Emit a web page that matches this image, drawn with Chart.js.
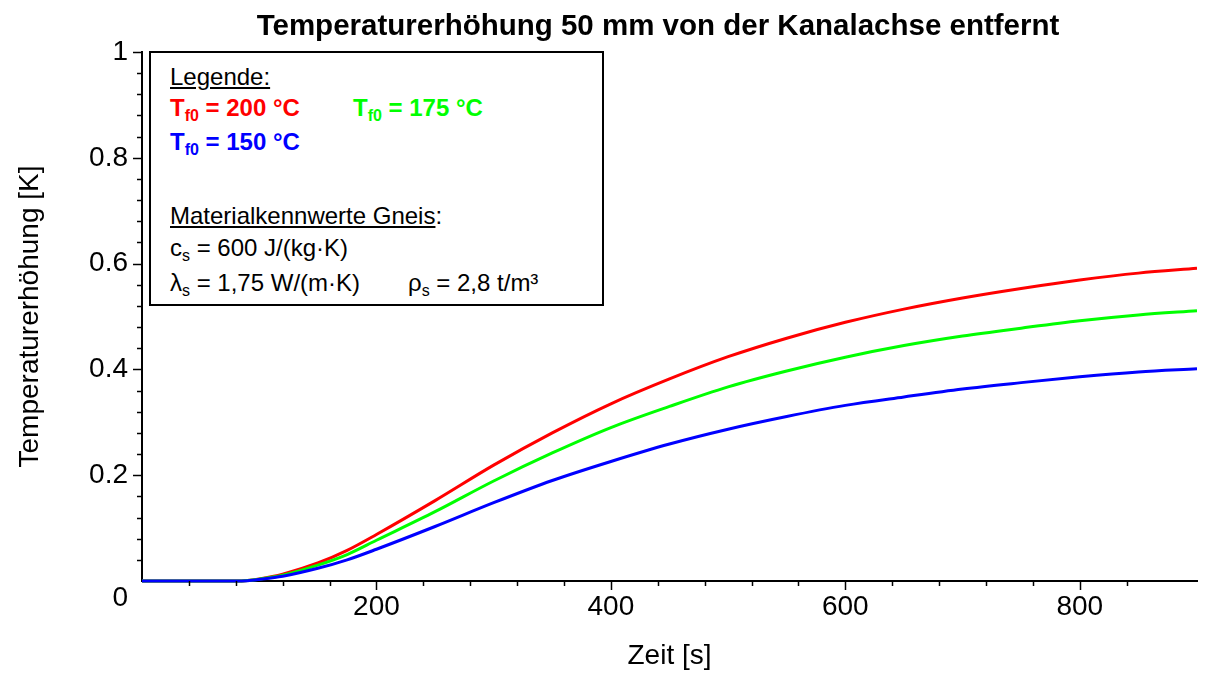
<!DOCTYPE html>
<html>
<head>
<meta charset="utf-8">
<script src="https://cdn.jsdelivr.net/npm/chart.js@4.4.1/dist/chart.umd.min.js"></script>
<style>
  html, body { margin: 0; padding: 0; background: #fff; }
  #wrap { position: relative; width: 1206px; height: 673px; font-family: "Liberation Sans", Arial, sans-serif; }
  #chart { position: absolute; left: 0; top: 0; }
  .title { position: absolute; left: 658px; top: 7px; transform: translateX(-50%); white-space: nowrap;
           font-weight: bold; font-size: 29.5px; line-height: 35px; color: #000; }
  .box { position: absolute; left: 149px; top: 51px; width: 451px; height: 251px; border: 2px solid #000; background: #fff; }
  .lg { position: absolute; white-space: nowrap; font-size: 24px; line-height: 24px; color: #000; }
  .sub { position: relative; top: 5px; font-size: 16px; }
  .red { color: #ff0000; font-weight: bold; }
  .green { color: #00ff00; font-weight: bold; }
  .blue { color: #0000ff; font-weight: bold; }
</style>
</head>
<body>
<div id="wrap">
  <canvas id="chart" width="1206" height="673"></canvas>
  <div class="title">Temperaturerhöhung 50 mm von der Kanalachse entfernt</div>
  <div class="box"></div>
  <div class="lg" style="left:170px; top:65px;"><u>Legende:</u></div>
  <div class="lg red" style="left:170px; top:96px;">T<span class="sub">f0</span> = 200 °C</div>
  <div class="lg green" style="left:353px; top:96px;">T<span class="sub">f0</span> = 175 °C</div>
  <div class="lg blue" style="left:170px; top:130px;">T<span class="sub">f0</span> = 150 °C</div>
  <div class="lg" style="left:170px; top:204px;"><u>Materialkennwerte Gneis</u>:</div>
  <div class="lg" style="left:170px; top:236px;">c<span class="sub">s</span> = 600 J/(kg·K)</div>
  <div class="lg" style="left:170px; top:271px;">λ<span class="sub">s</span> = 1,75 W/(m·K)</div>
  <div class="lg" style="left:408px; top:271px;">ρ<span class="sub">s</span> = 2,8 t/m³</div>
</div>
<script>
// time in seconds
const zeit = [0, 40, 80, 90, 100, 120, 150, 175, 200, 250, 300, 350, 400, 450, 500, 550, 600, 650, 700, 750, 800, 850, 900];
// temperature rise in K
const tf200 = [0, 0, 0, 0.001, 0.004, 0.013, 0.034, 0.058, 0.088, 0.152, 0.219, 0.280, 0.335, 0.382, 0.424, 0.459, 0.489, 0.514, 0.535, 0.553, 0.569, 0.582, 0.591];
const tf175 = [0, 0, 0, 0.001, 0.0035, 0.011, 0.030, 0.050, 0.077, 0.131, 0.189, 0.242, 0.290, 0.330, 0.367, 0.397, 0.423, 0.445, 0.463, 0.478, 0.492, 0.503, 0.511];
const tf150 = [0, 0, 0, 0.0007, 0.003, 0.009, 0.024, 0.040, 0.060, 0.103, 0.148, 0.190, 0.226, 0.259, 0.287, 0.311, 0.332, 0.348, 0.363, 0.375, 0.386, 0.395, 0.401];

const xLabels = [200, 400, 600, 800];

function pts(ys) {
  return zeit.map((t, i) => ({ x: t, y: ys[i] }));
}
function isMajorY(v) {
  return Math.abs(v * 5 - Math.round(v * 5)) < 1e-6;
}

// tick marks: long at labelled values, short elsewhere
const tickMarks = {
  id: "tickMarks",
  afterDraw(chart) {
    const { ctx, chartArea, scales: { x, y } } = chart;
    ctx.save();
    ctx.strokeStyle = "#000";
    ctx.lineWidth = 1.5;
    x.ticks.forEach(t => {
      if (t.value <= 0 || t.value >= 900) return;
      const px = Math.round(x.getPixelForValue(t.value)) + 0.5;
      const len = xLabels.includes(t.value) ? 9 : 5;
      ctx.beginPath();
      ctx.moveTo(px, chartArea.bottom);
      ctx.lineTo(px, chartArea.bottom + len);
      ctx.stroke();
    });
    y.ticks.forEach(t => {
      if (t.value <= 0) return;
      const py = Math.round(y.getPixelForValue(t.value)) + 0.5;
      const len = isMajorY(t.value) ? 9 : 5;
      ctx.beginPath();
      ctx.moveTo(chartArea.left, py);
      ctx.lineTo(chartArea.left - len, py);
      ctx.stroke();
    });
    ctx.restore();
  }
};

const font = { family: "'Liberation Sans', Arial, sans-serif", size: 28 };

new Chart(document.getElementById("chart"), {
  type: "line",
  data: {
    datasets: [
      { label: "Tf0 = 200 °C", data: pts(tf200), borderColor: "#ff0000", order: 3 },
      { label: "Tf0 = 175 °C", data: pts(tf175), borderColor: "#00ff00", order: 2 },
      { label: "Tf0 = 150 °C", data: pts(tf150), borderColor: "#0000ff", order: 1 }
    ]
  },
  options: {
    responsive: false,
    animation: false,
    devicePixelRatio: 1,
    layout: { padding: { top: 52, right: 6, left: 0, bottom: 0 } },
    elements: {
      line: { borderWidth: 3, cubicInterpolationMode: "monotone", fill: false },
      point: { radius: 0 }
    },
    datasets: { line: { clip: { left: 2, top: 2, right: 0, bottom: 3 } } },
    plugins: { legend: { display: false }, tooltip: { enabled: false } },
    scales: {
      x: {
        type: "linear", min: 0, max: 900,
        afterFit: s => { s.height = 92; },
        grid: { display: false, drawTicks: false },
        border: { display: true, color: "#000", width: 2 },
        ticks: {
          stepSize: 40, autoSkip: false, maxRotation: 0, padding: 9, color: "#000", font,
          callback: v => xLabels.includes(v) ? String(v) : ""
        },
        title: { display: true, text: "Zeit [s]", color: "#000", font, padding: { top: 0, bottom: 0 } }
      },
      y: {
        type: "linear", min: 0, max: 1,
        afterFit: s => { s.width = 142; },
        grid: { display: false, drawTicks: false },
        border: { display: true, color: "#000", width: 2 },
        ticks: {
          stepSize: 0.04, autoSkip: false, padding: 14, color: "#000", font,
          callback: v => {
            if (v === 0) return ["", "0"];
            if (!isMajorY(v)) return "";
            return String(Math.round(v * 10) / 10);
          }
        },
        title: { display: true, text: "Temperaturerhöhung [K]", color: "#000", font, padding: { top: 13, bottom: 0 } }
      }
    }
  },
  plugins: [tickMarks]
});
</script>
</body>
</html>
